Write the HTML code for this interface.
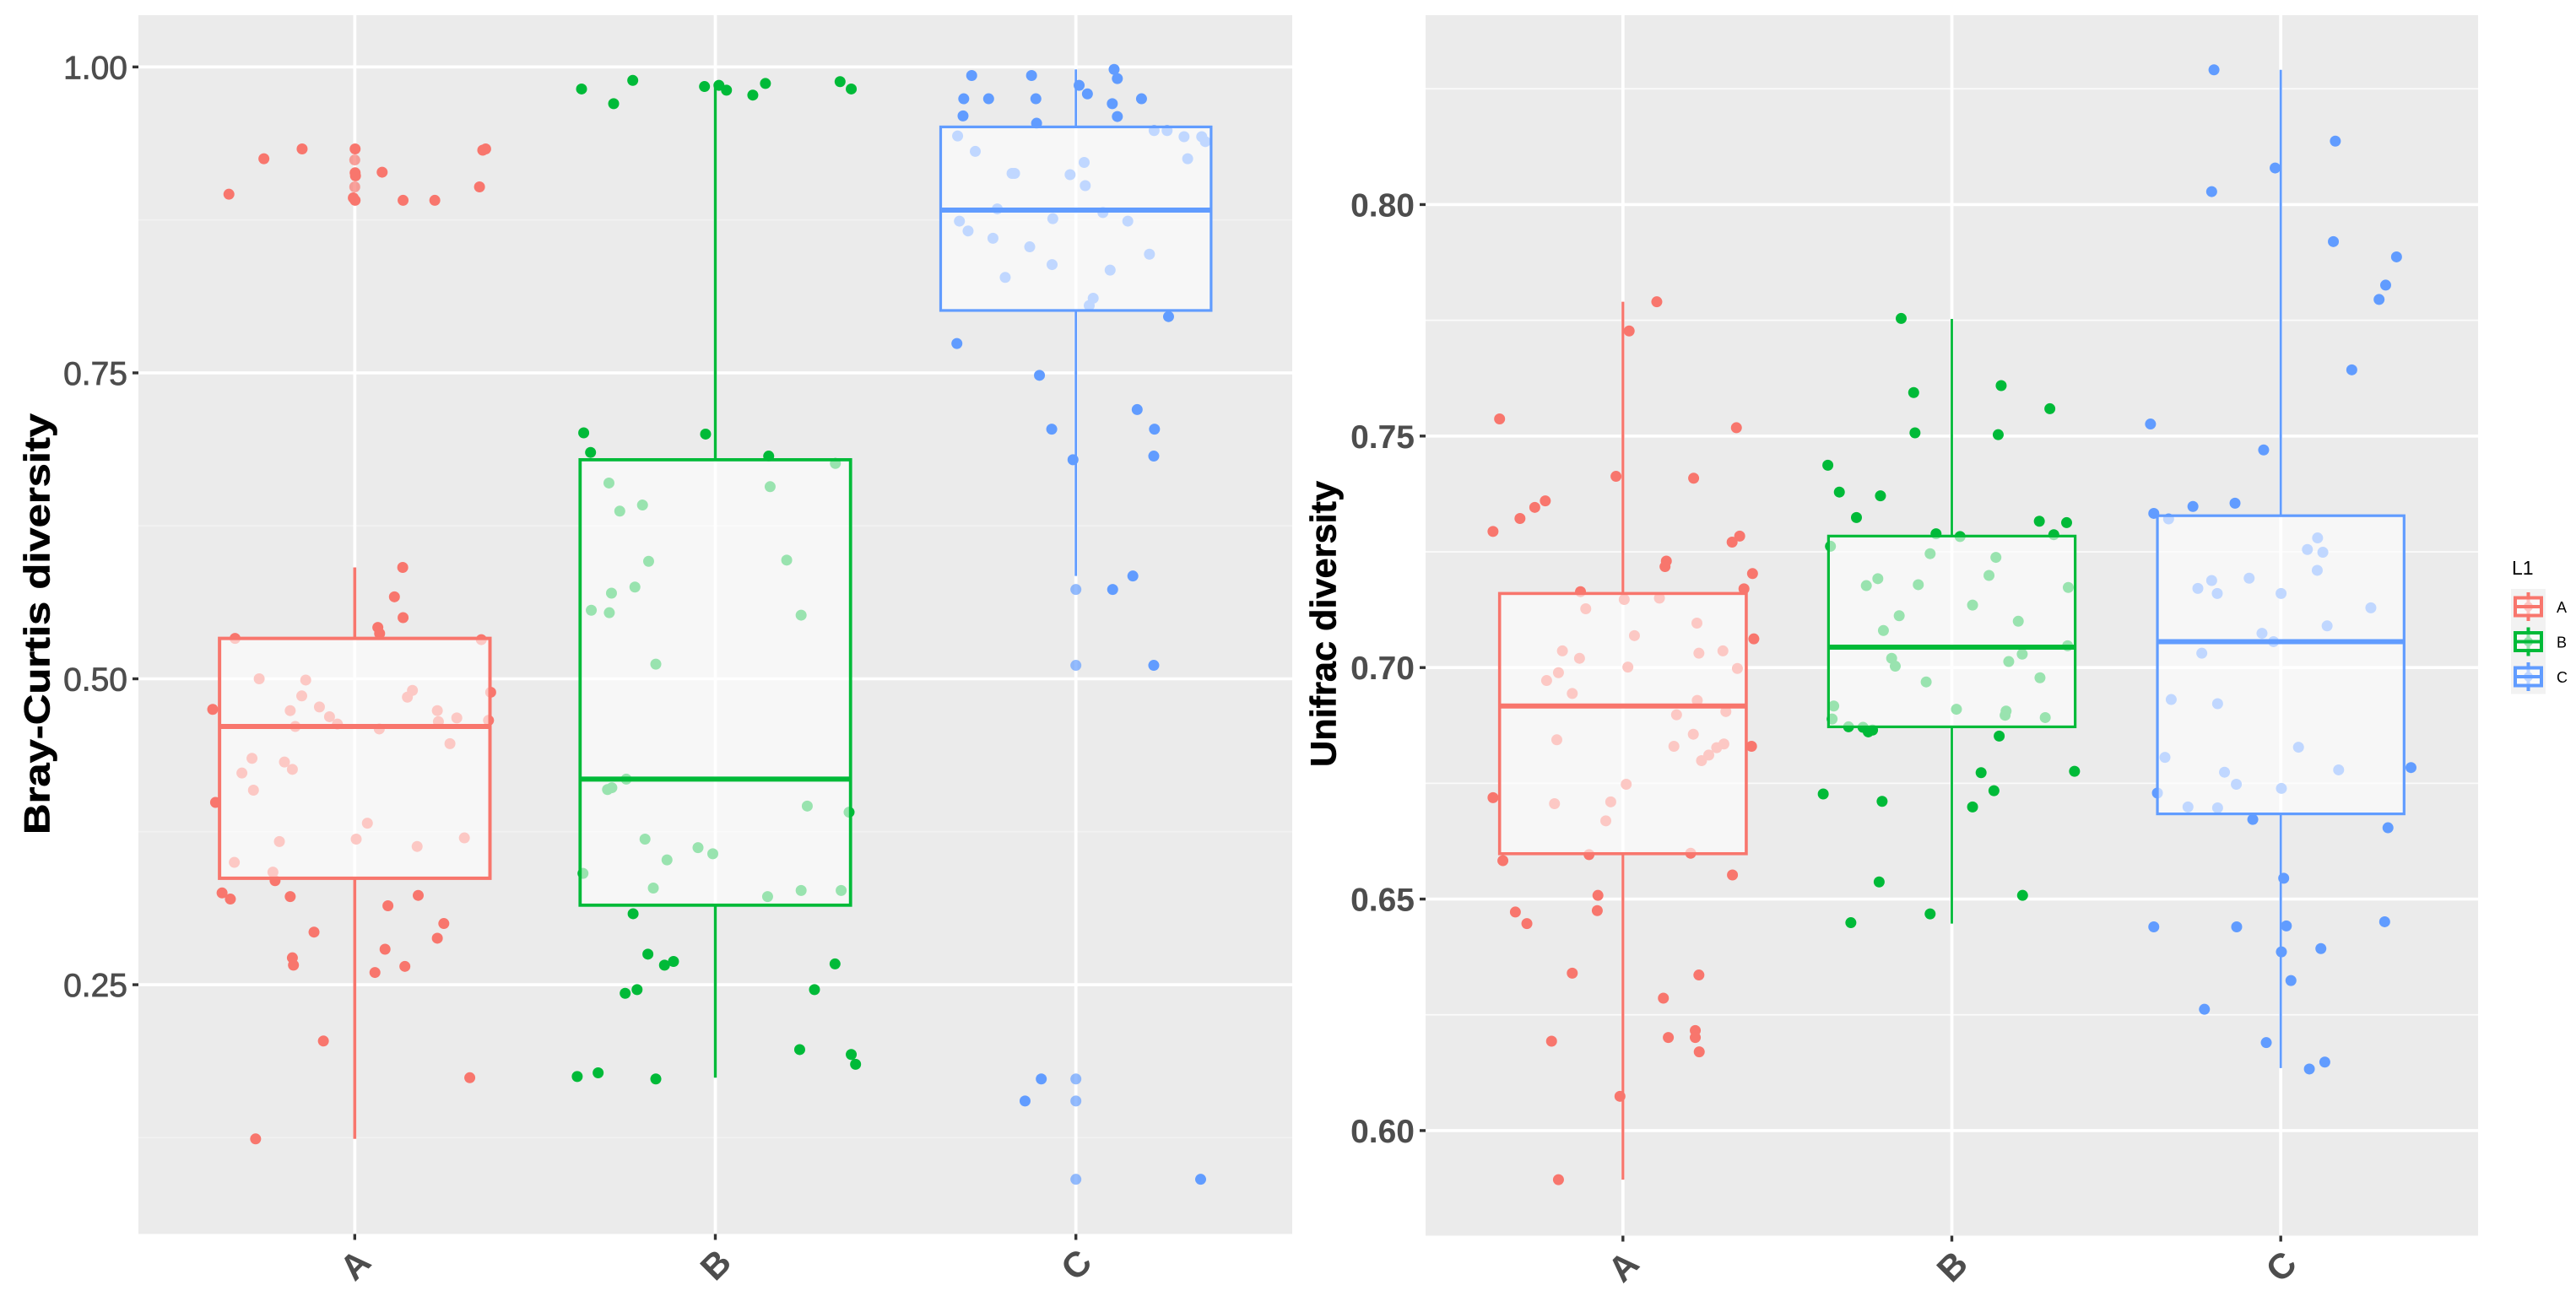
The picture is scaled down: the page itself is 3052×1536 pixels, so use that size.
<!DOCTYPE html>
<html lang="en">
<head>
<meta charset="utf-8">
<title>Bray-Curtis and Unifrac diversity box plots</title>
<style>
html,body{margin:0;padding:0;background:#fff;}
svg{display:block;font-family:"Liberation Sans",sans-serif;}
</style>
</head>
<body>
<svg id="chart" width="3052" height="1536" viewBox="0 0 3052 1536" xmlns="http://www.w3.org/2000/svg">
  <rect x="0" y="0" width="3052" height="1536" fill="#ffffff"/>
  <text transform="translate(58.7 739.5) rotate(-90)" text-anchor="middle" font-size="43" font-weight="bold" fill="#000" stroke="#000" stroke-width="0.6" textLength="499" lengthAdjust="spacingAndGlyphs">Bray-Curtis diversity</text>
  <text transform="translate(1582.7 739.5) rotate(-90)" text-anchor="middle" font-size="43" font-weight="bold" fill="#000" stroke="#000" stroke-width="0.6" textLength="339" lengthAdjust="spacingAndGlyphs">Unifrac diversity</text>
  <text x="2976" y="681" font-size="23" fill="#000">L1</text>
</svg>
<script>
const categories = ['A', 'B', 'C'];
const colors = ['#F8766D', '#00BA38', '#619CFF'];

const brayTickValues = [1.00, 0.75, 0.50, 0.25];
const brayTickLabels = ['1.00', '0.75', '0.50', '0.25'];
const brayMinorTicks = [0.875, 0.625, 0.375, 0.125];
const brayYLimits = [0.0463, 1.0423];

const unifracTickValues = [0.80, 0.75, 0.70, 0.65, 0.60];
const unifracTickLabels = ['0.80', '0.75', '0.70', '0.65', '0.60'];
const unifracMinorTicks = [0.825, 0.775, 0.725, 0.675, 0.625];
const unifracYLimits = [0.5773, 0.8409];

const brayQ1 = [0.337, 0.315, 0.801];
const brayMedian = [0.461, 0.418, 0.883];
const brayQ3 = [0.533, 0.679, 0.951];
const brayWhiskerLow = [0.124, 0.174, 0.584];
const brayWhiskerHigh = [0.591, 0.985, 0.998];

const unifracQ1 = [0.6598, 0.6872, 0.6684];
const unifracMedian = [0.6917, 0.7044, 0.7056];
const unifracQ3 = [0.716, 0.7284, 0.7328];
const unifracWhiskerLow = [0.5894, 0.6447, 0.6135];
const unifracWhiskerHigh = [0.779, 0.7753, 0.8291];

const brayValuesA = [.896,.925,.933,.933,.924,.9135,.911,.914,.902,.893,.891,.891,.891,.902,.932,.933,.591,.567,.550,.542,.537,.533,.532,.5,.499,.486,.477,.474,.469,.463,.461,.459,.485,.4905,.474,.465,.468,.466,.489,.475,.447,.435,.432,.426,.423,.409,.399,.382,.369,.367,.370,.363,.350,.342,.335,.325,.320,.322,.3145,.323,.300,.288,.293,.279,.265,.260,.272,.266,.204,.174,.124];
const brayJitterA = [-.349,-.252,-.146,.001,0,.001,.002,.076,0,-.004,.001,.134,.222,.346,.355,.363,.133,.110,.134,.064,.069,-.332,.351,-.265,-.136,-.147,-.098,-.179,-.070,-.048,-.165,.068,.146,.160,.229,.232,.283,.371,.377,-.394,.264,-.285,-.195,-.173,-.313,-.281,-.386,.035,.004,-.209,.304,.173,-.334,-.227,-.221,-.368,-.345,-.179,.092,.176,.247,.229,-.113,.084,.139,.056,-.173,-.170,-.087,.319,-.275];

const brayValuesB = [.982,.970,.989,.701,.685,.660,.637,.642,.596,.575,.570,.556,.554,.984,.985,.981,.977,.9865,.988,.982,.700,.682,.676,.657,.597,.552,.512,.418,.411,.4095,.369,.352,.341,.329,.308,.275,.269,.266,.243,.246,.175,.178,.173,.396,.391,.362,.357,.322,.327,.327,.267,.246,.197,.193,.185];
const brayJitterB = [-.371,-.282,-.229,-.365,-.346,-.295,-.265,-.202,-.185,-.223,-.288,-.344,-.294,-.030,.010,.031,.104,.139,.346,.377,-.027,.148,.333,.152,.198,.238,-.165,-.247,-.287,-.299,-.195,-.134,-.367,-.172,-.228,-.187,-.116,-.141,-.250,-.217,-.383,-.325,-.165,.255,.371,-.048,-.007,.145,.238,.349,.332,.275,.234,.377,.389];

const brayValuesC = [.993,.993,.998,.9905,.985,.978,.974,.974,.974,.970,.974,.960,.9595,.954,.948,.948,.9436,.943,.943,.939,.931,.925,.922,.913,.913,.912,.903,.884,.881,.876,.874,.874,.866,.860,.853,.847,.8385,.834,.828,.811,.805,.796,.774,.748,.720,.704,.704,.679,.682,.584,.573,.573,.511,.511,.173,.173,.155,.155,.091,.091];
const brayJitterC = [-.289,-.123,.106,.115,.009,.032,-.311,-.242,-.111,.101,.182,-.313,.115,-.109,.217,.253,-.328,.300,.349,.359,-.279,.310,.023,-.177,-.170,-.016,.026,-.218,.075,-.064,-.323,.144,-.299,-.230,-.128,.204,-.066,.095,-.196,.048,.037,.257,-.330,-.101,.170,-.067,.218,-.008,.216,.158,0,.102,0,.216,-.096,0,-.141,0,0,.346];

const unifracValuesA = [.779,.7727,.7537,.7518,.7413,.7409,.736,.7346,.7322,.7294,.7284,.7271,.723,.7218,.7203,.7164,.717,.7147,.715,.7127,.7096,.7069,.7062,.7036,.7036,.7031,.702,.7001,.6998,.6989,.6972,.6944,.6929,.6898,.6905,.6844,.6856,.683,.6835,.6827,.6811,.6799,.683,.6748,.6719,.671,.6706,.6669,.6596,.6599,.6583,.6552,.6508,.6475,.6472,.6447,.634,.6336,.6286,.6216,.6201,.6201,.6193,.617,.6074,.5894];
const unifracJitterA = [.103,.019,-.375,.345,-.021,.215,-.236,-.268,-.313,-.395,.355,.332,.132,.128,.394,-.129,.368,.004,.111,-.113,.225,.035,.398,-.184,.304,.231,-.132,.015,.348,-.196,-.232,-.154,.226,.163,.313,-.201,.214,.155,.307,.285,.261,.239,.391,.010,-.395,-.037,-.208,-.052,-.103,.206,-.365,.333,-.076,-.078,-.327,-.292,-.154,.231,.123,.220,.220,.138,-.217,.232,-.009,-.196];

const unifracValuesB = [.7754,.7594,.7507,.7437,.7379,.7371,.7324,.7289,.7262,.7246,.7192,.7177,.7179,.7112,.708,.702,.7003,.6969,.6917,.6889,.6872,.6871,.6865,.6861,.6727,.6711,.6537,.6449,.6468,.7609,.7559,.7503,.7316,.7313,.7283,.7287,.7238,.7199,.7173,.7135,.71,.7047,.7029,.7013,.6978,.691,.6906,.6897,.6892,.6852,.6773,.6776,.6734,.6699,.6508];
const unifracJitterB = [-.154,-.116,-.112,-.377,-.342,-.217,-.290,-.048,-.369,-.066,-.225,-.260,-.102,-.160,-.208,-.183,-.172,-.078,-.359,-.364,-.314,-.270,-.241,-.254,-.391,-.212,-.221,-.307,-.066,.150,.298,.141,.266,.349,.025,.310,.134,.113,.354,.063,.202,.352,.214,.173,.268,.014,.165,.162,.284,.144,.089,.373,.128,.063,.215];

const unifracValuesC = [.8291,.8137,.8079,.8028,.792,.7887,.7826,.7795,.7643,.7526,.747,.7355,.7348,.7333,.7321,.728,.7255,.7249,.721,.7193,.7188,.7171,.716,.716,.7129,.709,.7074,.7056,.7031,.6931,.6922,.6828,.6806,.6784,.6779,.6774,.6748,.6739,.6729,.6699,.6697,.6672,.6654,.6545,.6451,.644,.644,.6442,.6393,.6386,.6324,.6262,.619,.6148,.6133];
const unifracJitterC = [-.203,.166,-.017,-.210,.160,.352,.319,.299,.216,-.396,-.052,-.139,-.267,-.386,-.341,.112,.081,.128,.111,-.096,-.210,-.252,-.193,.001,.274,.141,-.057,-.022,-.240,-.333,-.192,.054,-.352,.396,.176,-.171,-.135,.002,-.375,-.282,-.192,-.085,.326,.009,.316,-.386,-.134,.017,.122,.002,.031,-.232,-.044,.134,.087];

const svg = document.getElementById('chart');
const NS = 'http://www.w3.org/2000/svg';

function make(tag, attrs, parent) {
  const el = document.createElementNS(NS, tag);
  for (const k in attrs) el.setAttribute(k, attrs[k]);
  (parent || svg).appendChild(el);
  return el;
}

function linear(domain, range) {
  return v => range[0] + (v - domain[0]) / (domain[1] - domain[0]) * (range[1] - range[0]);
}

function drawPanel(p) {
  const xScale = linear([0.4, 3.6], [p.left, p.right]);
  const yScale = linear(p.yLimits, [p.bottom, p.top]);

  const group = make('g', {});
  
  

  const bg = make('rect', {x: p.left, y: p.top, width: p.right - p.left, height: p.bottom - p.top, fill: '#EBEBEB'}, group);
  
  

  p.minorTicks.forEach(v => {
    const g = make('line', {x1: p.left, x2: p.right, y1: yScale(v), y2: yScale(v), stroke: '#fff', 'stroke-width': 1.8, 'stroke-opacity': p.minorOpacity}, group);
    
    
  });

  p.tickValues.forEach((v, i) => {
    const g = make('line', {x1: p.left, x2: p.right, y1: yScale(v), y2: yScale(v), stroke: '#fff', 'stroke-width': 3.6}, group);
    
    

    const t = make('line', {x1: p.left - 7, x2: p.left, y1: yScale(v), y2: yScale(v), stroke: '#333', 'stroke-width': 3.4}, group);
    
    

    const l = make('text', {x: p.left - 13, y: yScale(v) + 14, 'text-anchor': 'end', 'font-size': 39, 'font-weight': p.labelWeight, fill: '#4D4D4D', stroke: '#4D4D4D', 'stroke-width': p.labelStroke}, group);
    
    
    l.textContent = p.tickLabels[i];
  });

  categories.forEach((c, i) => {
    const cx = xScale(i + 1);
    const g = make('line', {x1: cx, x2: cx, y1: p.top, y2: p.bottom, stroke: '#fff', 'stroke-width': 3.8}, group);
    
    

    const t = make('line', {x1: cx, x2: cx, y1: p.bottom, y2: p.bottom + 7, stroke: '#333', 'stroke-width': 3.4}, group);
    
    

    const ly = p.bottom + 36;
    const l = make('text', {x: cx, y: ly + 15, 'text-anchor': 'middle', 'font-size': 42, 'font-weight': 'bold', fill: '#4D4D4D', transform: 'rotate(-45 ' + cx + ' ' + ly + ')'}, group);
    
    
    l.textContent = c;
  });

  categories.forEach((c, i) => {
    p.values[i].forEach((v, k) => {
      const j = p.jitter[i][k];
      const pt = make('circle', {cx: xScale(i + 1 + j), cy: yScale(v), r: 6.5, fill: colors[i], 'fill-opacity': j === 0 ? 0.68 : 1}, group);
      
      
    });
  });

  categories.forEach((c, i) => {
    const cx = xScale(i + 1);
    const x0 = xScale(i + 1 - 0.375);
    const x1 = xScale(i + 1 + 0.375);
    const sw = p.strokeWidths[i];

    const wu = make('line', {x1: cx, x2: cx, y1: yScale(p.q3[i]), y2: yScale(p.high[i]), stroke: colors[i], 'stroke-width': sw}, group);
    
    

    const wl = make('line', {x1: cx, x2: cx, y1: yScale(p.q1[i]), y2: yScale(p.low[i]), stroke: colors[i], 'stroke-width': sw}, group);
    
    

    const box = make('rect', {x: x0, y: yScale(p.q3[i]), width: x1 - x0, height: yScale(p.q1[i]) - yScale(p.q3[i]), fill: '#fff', 'fill-opacity': 0.6, stroke: colors[i], 'stroke-width': sw + 0.4}, group);
    
    

    const med = make('line', {x1: x0, x2: x1, y1: yScale(p.median[i]), y2: yScale(p.median[i]), stroke: colors[i], 'stroke-width': 6}, group);
    
    
  });
}

drawPanel({
  id: 'bray', left: 164, right: 1531, top: 18, bottom: 1462.5,
  yLimits: brayYLimits, tickValues: brayTickValues, tickLabels: brayTickLabels, minorTicks: brayMinorTicks,
  labelWeight: 'normal', labelStroke: 0.8, minorOpacity: 0.35, strokeWidths: [3.6, 3.4, 2.8],
  q1: brayQ1, median: brayMedian, q3: brayQ3, low: brayWhiskerLow, high: brayWhiskerHigh,
  values: [brayValuesA, brayValuesB, brayValuesC], jitter: [brayJitterA, brayJitterB, brayJitterC]
});

drawPanel({
  id: 'unifrac', left: 1689, right: 2936, top: 18, bottom: 1464.5,
  yLimits: unifracYLimits, tickValues: unifracTickValues, tickLabels: unifracTickLabels, minorTicks: unifracMinorTicks,
  labelWeight: 'bold', labelStroke: 0, minorOpacity: 0.8, strokeWidths: [3.2, 2.8, 2.8],
  q1: unifracQ1, median: unifracMedian, q3: unifracQ3, low: unifracWhiskerLow, high: unifracWhiskerHigh,
  values: [unifracValuesA, unifracValuesB, unifracValuesC], jitter: [unifracJitterA, unifracJitterB, unifracJitterC]
});

categories.forEach((c, i) => {
  const top = 698 + i * 41.5;
  const mid = top + 21;
  const key = make('g', {});
  
  

  const bg = make('rect', {x: 2975, y: top, width: 41, height: 41.5, fill: '#F2F2F2'}, key);
  
  

  const w = make('line', {x1: 2995.5, x2: 2995.5, y1: top + 4, y2: top + 38, stroke: colors[i], 'stroke-width': 4}, key);
  
  

  const dot = make('circle', {cx: 2995.5, cy: mid, r: 5.5, fill: colors[i]}, key);
  
  

  const b = make('rect', {x: 2980, y: top + 10.5, width: 31, height: 21, fill: '#fff', 'fill-opacity': 0.6, stroke: colors[i], 'stroke-width': 4}, key);
  
  

  const m = make('line', {x1: 2980, x2: 3011, y1: mid, y2: mid, stroke: colors[i], 'stroke-width': 4}, key);
  
  

  const t = make('text', {x: 3029, y: mid + 7, 'font-size': 18, fill: '#000'}, key);
  
  
  t.textContent = c;
});
</script>
</body>
</html>
